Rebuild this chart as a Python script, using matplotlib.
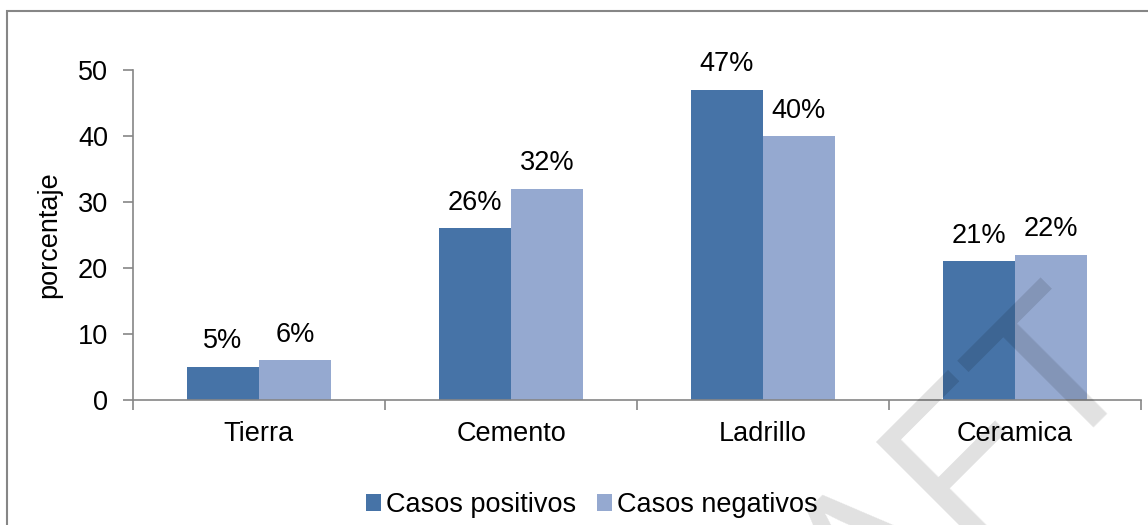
import matplotlib.pyplot as plt
import numpy as np
from matplotlib.patches import Rectangle

plt.rcParams['font.family'] = ['Liberation Sans', 'DejaVu Sans']

categories = ['Tierra', 'Cemento', 'Ladrillo', 'Ceramica']
positivos = [5, 26, 47, 21]
negativos = [6, 32, 40, 22]
series_names = ['Casos positivos', 'Casos negativos']
colors = ['#4673A7', '#95A9D0']

fs = 19.5

fig = plt.figure(figsize=(11.48, 5.25), dpi=100)
ax = fig.add_axes([133 / 1148, 1 - 400 / 525, (1141 - 133) / 1148, 330 / 525])

# frame around the chart area (only left and top edges fall inside the picture)
fig.patches.append(Rectangle((7 / 1148, -0.1), 1.2, 1 - 11 / 525 + 0.1,
                             transform=fig.transFigure, fill=False,
                             edgecolor='#868686', linewidth=1.5))

x = np.arange(len(categories))
w = 0.2857
b1 = ax.bar(x - w / 2, positivos, w, color=colors[0], label=series_names[0])
b2 = ax.bar(x + w / 2, negativos, w, color=colors[1], label=series_names[1])

for bars, vals in [(b1, positivos), (b2, negativos)]:
    for bar, v in zip(bars, vals):
        ax.annotate(f'{v}%', (bar.get_x() + bar.get_width() / 2, v),
                    xytext=(0, 9), textcoords='offset points',
                    ha='center', va='bottom', fontsize=fs)

ax.set_xlim(-0.5, 3.5)
ax.set_ylim(0, 50)
ax.set_yticks([0, 10, 20, 30, 40, 50])
ax.set_xticks(np.arange(-0.5, 4, 1))
ax.set_xticklabels([])
ax.set_xticks(x, minor=True)
ax.set_xticklabels(categories, minor=True)
ax.tick_params(axis='x', which='minor', length=0, pad=15, labelsize=fs)
ax.tick_params(axis='x', which='major', length=7, width=1.2, color='#868686', direction='out')
ax.tick_params(axis='y', length=7, width=1.2, color='#868686', pad=11, labelsize=fs)

for s in ['top', 'right']:
    ax.spines[s].set_visible(False)
for s in ['left', 'bottom']:
    ax.spines[s].set_color('#868686')
    ax.spines[s].set_linewidth(1.2)

ax.set_ylabel('porcentaje', fontsize=fs, labelpad=11)

fig.legend(loc='center', bbox_to_anchor=(592 / 1148, 1 - 505 / 525), ncol=2,
           frameon=False, fontsize=fs, handlelength=0.55, handleheight=0.55,
           handletextpad=0.2, columnspacing=0.75)

# faint watermark, mostly running off the bottom edge
fig.text(858 / 1148, 1 - 570 / 525, 'DRAFT', fontsize=150, color='black', alpha=0.12,
         rotation=45, ha='center', va='center', zorder=10)

fig.savefig('out.png', dpi=100)
